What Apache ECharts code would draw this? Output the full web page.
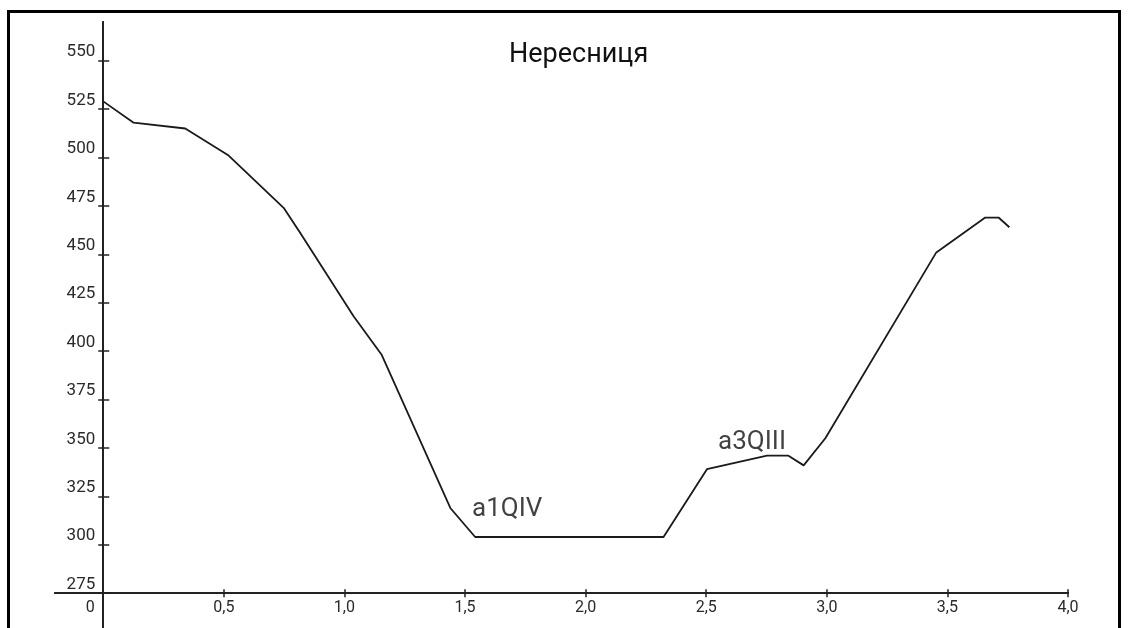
<!DOCTYPE html>
<html><head><meta charset="utf-8">
<script src="https://cdn.jsdelivr.net/npm/echarts@6/dist/echarts.min.js"></script>
<style>
html,body{margin:0;padding:0;background:#fff;width:1128px;height:628px;overflow:hidden;}
#frame{position:absolute;left:7px;top:10px;width:1108px;height:640px;border:3px solid #000;border-bottom:none;}
#chart{position:absolute;left:0;top:0;width:1128px;height:628px;}
</style></head>
<body><div id="frame"></div><div id="chart"></div>
<script>
const titleText = 'Нересниця';
const distance = [0, 0.126, 0.34, 0.52, 0.748, 0.817, 1.038, 1.155, 1.439, 1.542, 2.323, 2.503, 2.752, 2.841, 2.904, 2.994, 3.454, 3.657, 3.712, 3.757];
const elevation = [529, 518, 515, 501, 474, 461, 418, 398, 319, 304, 304, 339, 346, 346, 341, 355, 451, 469, 469, 464];
const xTicks = [0, 0.5, 1.0, 1.5, 2.0, 2.5, 3.0, 3.5, 4.0];
const yTicks = [275, 300, 325, 350, 375, 400, 425, 450, 475, 500, 525, 550];
const annotX = [1.675, 2.69];
const annotY = [318, 353];
const annotText = ['a1QIV', 'a3QIII'];

const xMin = -0.2, xMax = 4.0, xBaseVal = 0;
const yMin = 257, yMax = 570, yBaseVal = 275;
const gridLeft = 55, gridRight = 60, gridTop = 22, gridBottom = 0;
const gridH = 628 - gridTop - gridBottom;
const gridW = 1128 - gridLeft - gridRight;
const xAxisOffset = -(yBaseVal - yMin) / (yMax - yMin) * gridH;
const yAxisOffset = -(xBaseVal - xMin) / (xMax - xMin) * gridW;

const chart = echarts.init(document.getElementById('chart'));
const fam = 'Roboto, Arial, sans-serif';
const lineData = distance.map((d, i) => [d, elevation[i]]);
const annData = annotX.map((x, i) => ({ value: [x, annotY[i]], name: annotText[i] }));
const xFmt = v => v === 0 ? '{z|0}' : v.toFixed(1).replace('.', ',');
const txt = '#2a2a2a';

const xBase = {
  type: 'value', min: xMin, max: xMax, offset: xAxisOffset, position: 'bottom',
  axisLine: { show: true, onZero: false, lineStyle: { color: '#222', width: 2 } },
  splitLine: { show: false }
};
const yBaseAx = {
  type: 'value', min: yMin, max: yMax, position: 'left', offset: yAxisOffset,
  axisLine: { show: true, onZero: false, lineStyle: { color: '#222', width: 2 } },
  splitLine: { show: false }
};

chart.setOption({
  animation: false,
  backgroundColor: 'transparent',
  title: { text: titleText, left: 504, top: 37, textStyle: { fontFamily: fam, fontSize: 27, fontWeight: 'normal', color: '#111' } },
  grid: { left: gridLeft, right: gridRight, top: gridTop, bottom: gridBottom, containLabel: false },
  xAxis: [
    Object.assign({}, xBase, {
      axisTick: { show: true, customValues: xTicks.filter(v => v > 0), length: 4, lineStyle: { color: '#222', width: 1.5 } },
      axisLabel: { customValues: xTicks, margin: 7, formatter: xFmt, fontFamily: fam, fontSize: 16, color: txt,
        rich: { z: { fontFamily: fam, fontSize: 16, color: txt, padding: [0, 26, 0, 0] } } }
    }),
    Object.assign({}, xBase, {
      axisTick: { show: true, inside: true, customValues: xTicks.filter(v => v > 0), length: 4, lineStyle: { color: '#222', width: 1.5 } },
      axisLabel: { show: false }
    })
  ],
  yAxis: [
    Object.assign({}, yBaseAx, {
      axisTick: { show: true, customValues: yTicks, length: 5, lineStyle: { color: '#222', width: 1.5 } },
      axisLabel: { customValues: yTicks, margin: 8, verticalAlign: 'bottom', padding: [0, 0, 0, 0], fontFamily: fam, fontSize: 17, color: txt }
    }),
    Object.assign({}, yBaseAx, {
      axisTick: { show: true, inside: true, customValues: yTicks, length: 6, lineStyle: { color: '#222', width: 1.5 } },
      axisLabel: { show: false }
    })
  ],
  series: [
    { type: 'line', data: lineData, xAxisIndex: 0, yAxisIndex: 0, showSymbol: false, symbol: 'none',
      lineStyle: { color: '#1a1a1a', width: 1.8 } },
    { type: 'scatter', data: annData, xAxisIndex: 0, yAxisIndex: 0, symbolSize: 0,
      label: { show: true, position: 'inside', formatter: p => p.name, fontFamily: fam, fontSize: 26, color: '#111' } }
  ]
});
</script>
</body></html>
